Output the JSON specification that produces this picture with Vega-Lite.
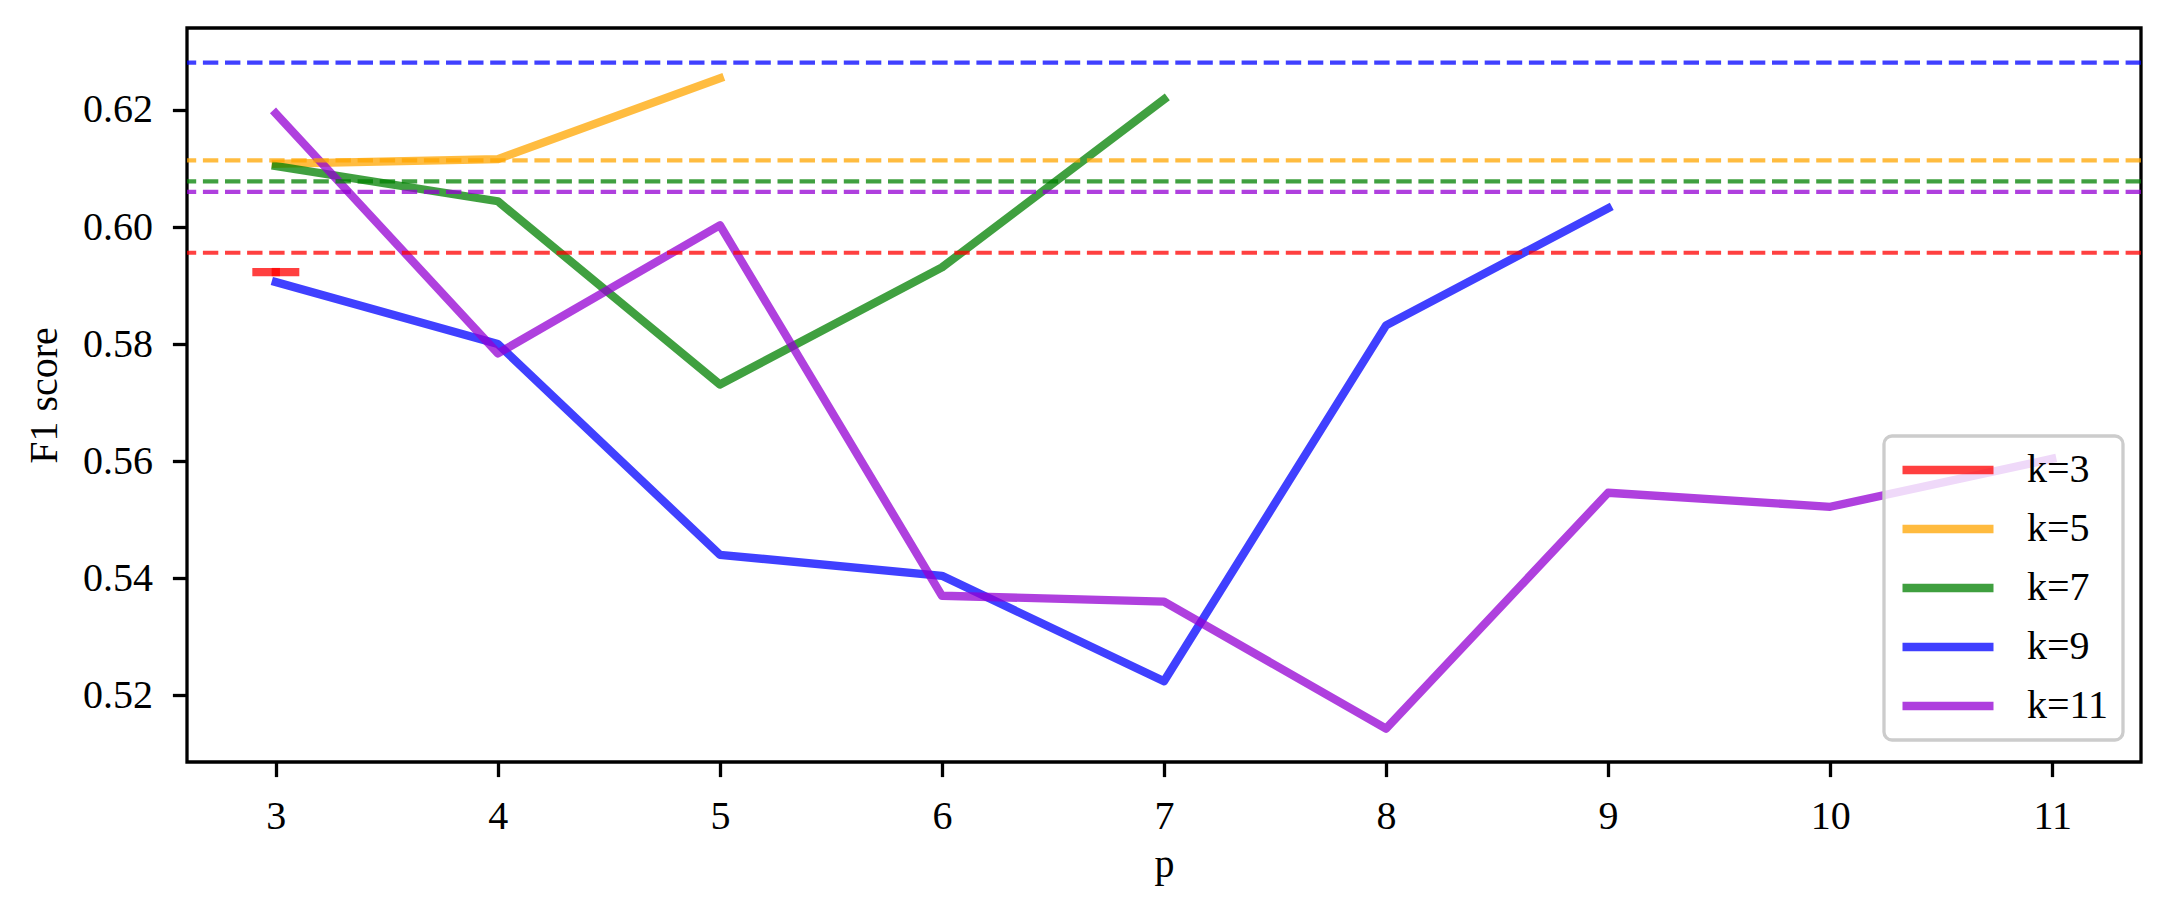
{
  "$schema": "https://vega.github.io/schema/vega-lite/v6.json",
  "width": 1954,
  "height": 734,
  "autosize": {"type": "none"},
  "padding": {"left": 187, "top": 28, "right": 28, "bottom": 154},
  "background": "white",
  "config": {
    "font": "Liberation Serif",
    "view": {"stroke": "black", "strokeWidth": 3.3},
    "axis": {
      "grid": false,
      "domain": false,
      "tickColor": "black",
      "tickWidth": 3.3,
      "tickSize": 14.6,
      "labelFont": "Liberation Serif",
      "labelFontSize": 40,
      "labelColor": "black",
      "titleFont": "Liberation Serif",
      "titleFontSize": 40,
      "titleFontWeight": "normal",
      "titleColor": "black"
    },
    "legend": {
      "orient": "none",
      "legendX": 1697,
      "legendY": 408,
      "symbolType": "stroke",
      "symbolSize": 8281,
      "symbolStrokeWidth": 8.3,
      "symbolOpacity": 0.75,
      "clipHeight": 40,
      "rowPadding": 19,
      "labelFont": "Liberation Serif",
      "labelFontSize": 40,
      "labelColor": "black",
      "labelOffset": 29,
      "padding": 14,
      "fillColor": "rgba(255,255,255,0.8)",
      "strokeColor": "#cccccc",
      "strokeWidth": 3.3,
      "cornerRadius": 8
    }
  },
  "datasets": {
    "curves": [
      {"k": "k=3", "p": 3, "f1": 0.5923},
      {"k": "k=5", "p": 3, "f1": 0.6108},
      {"k": "k=5", "p": 4, "f1": 0.6116},
      {"k": "k=5", "p": 5, "f1": 0.6254},
      {"k": "k=7", "p": 3, "f1": 0.6104},
      {"k": "k=7", "p": 4, "f1": 0.6044},
      {"k": "k=7", "p": 5, "f1": 0.5731},
      {"k": "k=7", "p": 6, "f1": 0.5931},
      {"k": "k=7", "p": 7, "f1": 0.6218},
      {"k": "k=9", "p": 3, "f1": 0.5906},
      {"k": "k=9", "p": 4, "f1": 0.58},
      {"k": "k=9", "p": 5, "f1": 0.544},
      {"k": "k=9", "p": 6, "f1": 0.5404},
      {"k": "k=9", "p": 7, "f1": 0.5224},
      {"k": "k=9", "p": 8, "f1": 0.5832},
      {"k": "k=9", "p": 9, "f1": 0.6032},
      {"k": "k=11", "p": 3, "f1": 0.6194},
      {"k": "k=11", "p": 4, "f1": 0.5784},
      {"k": "k=11", "p": 5, "f1": 0.6003},
      {"k": "k=11", "p": 6, "f1": 0.537},
      {"k": "k=11", "p": 7, "f1": 0.536},
      {"k": "k=11", "p": 8, "f1": 0.5143},
      {"k": "k=11", "p": 9, "f1": 0.5546},
      {"k": "k=11", "p": 10, "f1": 0.5522},
      {"k": "k=11", "p": 11, "f1": 0.5604}
    ],
    "baselines": [
      {"k": "k=3", "f1": 0.5956},
      {"k": "k=5", "f1": 0.6114},
      {"k": "k=7", "f1": 0.6078},
      {"k": "k=9", "f1": 0.6281},
      {"k": "k=11", "f1": 0.606}
    ]
  },
  "layer": [
    {
      "data": {"name": "curves"},
      "mark": {"type": "line", "strokeWidth": 8.3, "opacity": 0.75, "strokeCap": "square", "strokeJoin": "round"},
      "encoding": {
        "x": {
          "field": "p",
          "type": "quantitative",
          "scale": {"domain": [2.6, 11.4], "nice": false, "zero": false},
          "axis": {"values": [3, 4, 5, 6, 7, 8, 9, 10, 11], "format": "d", "title": "p", "labelPadding": 20, "titlePadding": 8}
        },
        "y": {
          "field": "f1",
          "type": "quantitative",
          "scale": {"domain": [0.5086, 0.634], "nice": false, "zero": false},
          "axis": {"values": [0.52, 0.54, 0.56, 0.58, 0.6, 0.62], "format": ".2f", "title": "F1 score", "labelPadding": 20, "titlePadding": 18}
        },
        "color": {
          "field": "k",
          "type": "nominal",
          "scale": {"domain": ["k=3", "k=5", "k=7", "k=9", "k=11"], "range": ["red", "orange", "green", "blue", "darkviolet"]},
          "legend": {"title": null}
        }
      }
    },
    {
      "data": {"name": "curves"},
      "transform": [{"filter": "datum.k === 'k=3'"}],
      "mark": {"type": "tick", "orient": "horizontal", "size": 47, "thickness": 8.3, "opacity": 0.75},
      "encoding": {
        "x": {"field": "p", "type": "quantitative"},
        "y": {"field": "f1", "type": "quantitative"},
        "color": {"field": "k", "type": "nominal", "legend": null}
      }
    },
    {
      "data": {"name": "baselines"},
      "mark": {"type": "rule", "strokeDash": [15.4, 6.7], "strokeWidth": 4.2, "opacity": 0.75},
      "encoding": {
        "y": {"field": "f1", "type": "quantitative"},
        "color": {"field": "k", "type": "nominal", "legend": null}
      }
    }
  ]
}
